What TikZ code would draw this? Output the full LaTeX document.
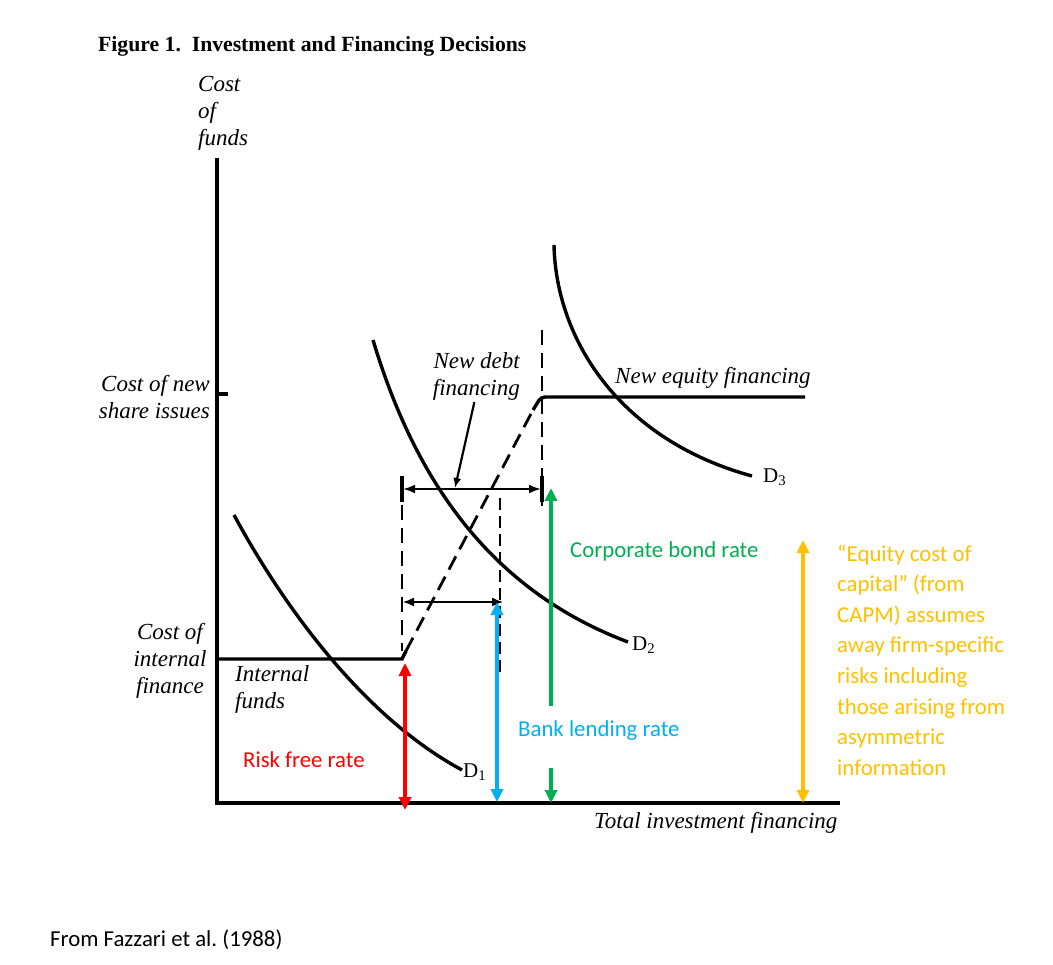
\documentclass[tikz,border=0pt]{standalone}
\usepackage{fontspec}
\setmainfont{Liberation Serif}
\newfontfamily\calibri{Carlito}
\usepackage{tikz}
\usetikzlibrary{calc,arrows.meta}
\definecolor{riskred}{RGB}{255,0,0}
\definecolor{bankblue}{RGB}{0,176,240}
\definecolor{bondgreen}{RGB}{0,176,80}
\definecolor{equityorange}{RGB}{255,192,0}

\begin{document}
\begin{tikzpicture}[x=1pt,y=-1pt,
	curve/.style={line width=3.4pt},
	dashline/.style={line width=2.8pt,dash pattern=on 15pt off 8pt},
	rate/.style={line width=4pt,{Triangle[length=13pt,width=12pt]}-{Triangle[length=13pt,width=12pt]}},
	italabel/.style={font=\fontsize{23}{27}\selectfont\itshape,inner sep=0pt},
	notelabel/.style={font=\calibri\fontsize{22.8}{30.6}\selectfont,inner sep=0pt,anchor=west}]
	\newcommand{\internalCost}{659}
	\newcommand{\shareCost}{397}
	\newcommand{\internalEnd}{402}
	\newcommand{\debtEnd}{542}
	\newcommand{\bankEnd}{500}

	\useasboundingbox (0,0) rectangle (1053,965);

	\coordinate (origo) at (217,803);
	\coordinate (y_top) at (217,158);
	\coordinate (x_end) at (840,803);
	\coordinate (kink_low) at (\internalEnd+4,\internalCost-8);
	\coordinate (kink_high) at (\debtEnd-9,\shareCost+13);

	% draw axes
	\draw[curve] (y_top) -- (origo) -- (x_end);
	\draw[curve] (217,394) -- (228,394);

	% supply of funds
	\draw[curve] (217,\internalCost) -- (\internalEnd,\internalCost) -- (kink_low);
	\draw[dashline] (kink_low) -- (kink_high);
	\draw[curve,rounded corners=4pt] (kink_high) -- (\debtEnd-1,\shareCost) -- (805,\shareCost);

	% dashed limits
	\draw[dashline] (\internalEnd,505) -- (\internalEnd,651);
	\draw[dashline] (\debtEnd,330) -- (\debtEnd,513);
	\draw[line width=2.2pt,dash pattern=on 12pt off 6pt] (\bankEnd,498) -- (\bankEnd,677);
	\draw[curve] (\internalEnd,476) -- (\internalEnd,502);
	\draw[curve] (\debtEnd,476) -- (\debtEnd,502);
	\draw[line width=2.2pt,{Latex[length=12pt,width=9pt]}-{Latex[length=12pt,width=9pt]}]
		(\internalEnd+1,489) -- (\debtEnd-1,489);
	\draw[line width=1.4pt,{Latex[length=11pt,width=9pt]}-{Latex[length=11pt,width=9pt]}]
		(\internalEnd+1,602) -- (\bankEnd+3,602);

	% demand curves
	\draw[curve] (234,515) .. controls (280,600) and (360,715) .. (462,770);
	\draw[curve] (373,340) .. controls (415,480) and (490,590) .. (628,642);
	\draw[curve] (554,245) .. controls (556,340) and (620,440) .. (752,476);
	\node[inner sep=0pt,anchor=west,font=\fontsize{21}{25}\selectfont] (d_one) at (463,772) {D\textsubscript{1}};
	\node[inner sep=0pt,anchor=west,font=\fontsize{21}{25}\selectfont] (d_two) at (632,645) {D\textsubscript{2}};
	\node[inner sep=0pt,anchor=west,font=\fontsize{21}{25}\selectfont] (d_three) at (763,477) {D\textsubscript{3}};

	% labels
	\node[inner sep=0pt,anchor=base west,font=\bfseries\fontsize{21.7}{26}\selectfont] (title)
		at (98,52) {Figure 1.\ \ Investment and Financing Decisions};
	\node[italabel,anchor=west,align=left] (cost_funds) at (198,113) {Cost\\of\\funds};
	\node[italabel,anchor=east,align=right] (cost_shares) at (210,397) {Cost of new\\share issues};
	\node[italabel,anchor=east,align=right] (debt_label) at (520,376) {New debt\\financing};
	\node[italabel,anchor=west] (equity_label) at (615,378) {New equity financing};
	\node[italabel,align=center] (cost_internal) at (170,661) {Cost of\\internal\\finance};
	\node[italabel,anchor=west,align=left] (internal_funds) at (235,689) {Internal\\funds};
	\node[italabel,anchor=west] (x_label) at (594,823) {Total investment financing};
	\draw[line width=2.2pt,-{Latex[length=10pt,width=8pt]}] ($(debt_label.south)+(-2,2)$) -- (455,488);

	% rates
	\draw[rate,riskred] (405,663) -- (405,810);
	\draw[rate,bankblue] (497,602) -- (497,802);
	\draw[line width=4pt,bondgreen,-{Triangle[length=13pt,width=12pt]}] (551,706) -- (551,488);
	\draw[line width=4pt,bondgreen,-{Triangle[length=13pt,width=12pt]}] (551,768) -- (551,803);
	\draw[rate,equityorange] (803,540) -- (803,803);
	\node[notelabel,riskred] (risk_free) at (243,760) {Risk free rate};
	\node[notelabel,bankblue] (bank_rate) at (518,731) {Bank lending rate};
	\node[notelabel,bondgreen] (bond_rate) at (570,551) {Corporate bond rate};
	\node[notelabel,equityorange,align=left] (equity_note) at (837,660)
		{“Equity cost of\\capital” (from\\CAPM) assumes\\away firm-specific\\risks including\\those arising from\\asymmetric\\information};
	\node[notelabel] (source) at (50,940) {From Fazzari et al.\ (1988)};
\end{tikzpicture}
\end{document}
